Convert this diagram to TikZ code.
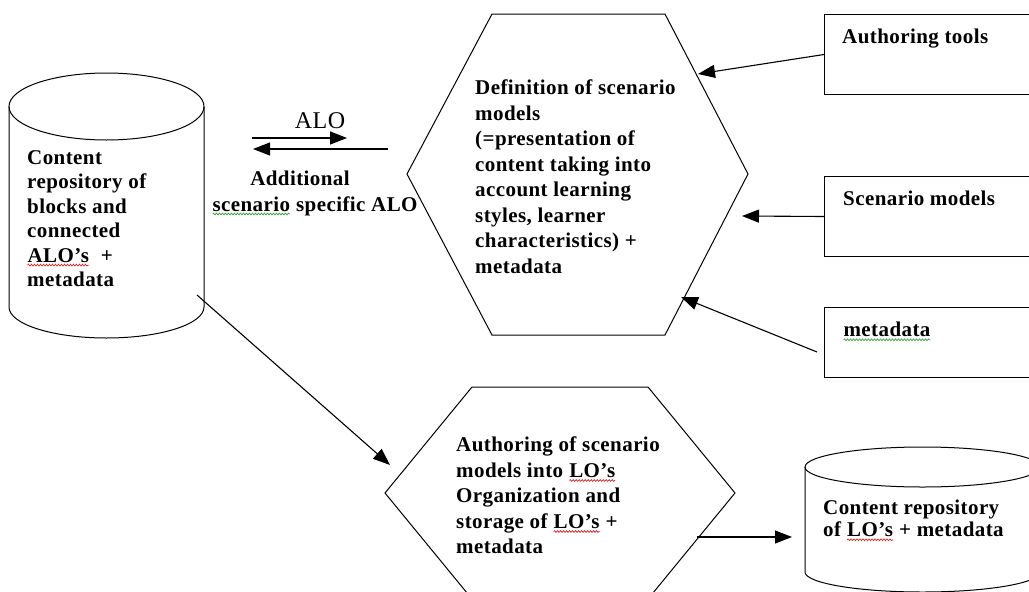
\documentclass[tikz,border=0pt]{standalone}
\usepackage{fontspec}
\setmainfont{Liberation Serif}[LetterSpace=2.0]
\usetikzlibrary{arrows.meta,decorations.pathmorphing}
\definecolor{squigred}{RGB}{210,40,40}
\definecolor{squiggreen}{RGB}{60,160,60}
\newcommand\squig[2]{\tikz[baseline=(sq.base)]{\node[inner sep=0pt,outer sep=0pt,anchor=base west](sq){#2};\draw[#1,line width=0.7pt,decorate,decoration={snake,amplitude=0.9pt,segment length=3pt}]([yshift=-3pt]sq.base west)--([yshift=-3pt]sq.base east);}}
\tikzset{
  shapeline/.style={draw=black,line width=1pt},
  txt/.style={font=\fontsize{21}{25.5}\selectfont\bfseries,inner sep=0pt,align=left,anchor=north west},
  arr/.style={draw=black,line width=1.1pt,-{Triangle[length=17pt,width=13pt]}},
  boxnode/.style={draw=black,line width=1pt,anchor=north west,inner sep=0pt,minimum width=216pt},
}
\begin{document}
\begin{tikzpicture}[x=1pt,y=-1pt]
\useasboundingbox (0,0) rectangle (1029,592);
\clip (0,0) rectangle (1029,592);
\fill[white] (0,0) rectangle (1029,592);

% left cylinder
\draw[shapeline] (106.5,106.5) ellipse [x radius=97.5pt, y radius=33.5pt];
\draw[shapeline] (9,106.5) -- (9,307) arc[start angle=180,end angle=360,x radius=97.5pt,y radius=31pt] -- (204,106.5);
\node[inner sep=0pt,minimum width=195pt,minimum height=200pt] (cylA) at (106.5,207) {};
\node[txt,font=\fontsize{21}{24.5}\selectfont\bfseries] (cylAtext) at (27,150) {Content\\repository of\\blocks and\\connected\\\squig{squigred}{ALO’s} \ +\\metadata};

% upper hexagon
\coordinate (h1a) at (492,14);
\coordinate (h1b) at (665,14);
\coordinate (h1c) at (748,174);
\coordinate (h1d) at (665,335);
\coordinate (h1e) at (492,335);
\coordinate (h1f) at (407,174);
\draw[shapeline] (h1a) -- (h1b) -- (h1c) -- (h1d) -- (h1e) -- (h1f) -- cycle;
\node[txt] (hexAtext) at (475,80) {Definition of scenario\\models\\(=presentation of\\content taking into\\account learning\\styles, learner\\characteristics) +\\metadata};

% lower hexagon
\coordinate (h2a) at (472,387);
\coordinate (h2b) at (648,387);
\coordinate (h2c) at (735,493);
\coordinate (h2d) at (648,599);
\coordinate (h2e) at (472,599);
\coordinate (h2f) at (385,493);
\draw[shapeline] (h2a) -- (h2b) -- (h2c) -- (h2d) -- (h2e) -- (h2f) -- cycle;
\node[txt] (hexBtext) at (456,437) {Authoring of scenario\\models into \squig{squigred}{LO’s}\\Organization and\\storage of \squig{squigred}{LO’s} +\\metadata};

% right cylinder
\draw[shapeline] (922.5,467) ellipse [x radius=117.5pt, y radius=20pt];
\draw[shapeline] (805,467) -- (805,572) arc[start angle=180,end angle=360,x radius=117.5pt,y radius=20pt] -- (1040,467);
\node[inner sep=0pt,minimum width=235pt,minimum height=105pt] (cylB) at (922.5,519.5) {};
\node[txt,font=\fontsize{21}{22}\selectfont\bfseries] (cylBtext) at (823,500) {Content repository\\of \squig{squigred}{LO’s} + metadata};

% right boxes
\node[boxnode,minimum height=80pt] (tools) at (824,14) {};
\node[txt] (toolstext) at (842,29) {Authoring tools};
\node[boxnode,minimum height=80pt] (scen) at (824,176) {};
\node[txt] (scentext) at (843,191) {Scenario models};
\node[boxnode,minimum height=70pt] (meta) at (824,307) {};
\node[txt] (metatext) at (843,322) {\squig{squiggreen}{metadata}};

% ALO labels
\node[inner sep=0pt,font=\fontsize{24}{28}\selectfont] (alo) at (320,121) {ALO};
\node[inner sep=0pt,anchor=base,font=\fontsize{21}{25}\selectfont\bfseries] (addl) at (300,185) {Additional};
\node[inner sep=0pt,anchor=base west,font=\fontsize{21}{25}\selectfont\bfseries] (scspec) at (212,211) {\squig{squiggreen}{scenario} specific ALO};

% connector end points
\coordinate (aloR1) at (252,138);
\coordinate (aloR2) at (347,138);
\coordinate (aloL1) at (388,149);
\coordinate (aloL2) at (253,149);
\coordinate (toolsTip) at (698,74);
\coordinate (scenTip) at (742,216);
\coordinate (metaStart) at (817,352);
\coordinate (metaTip) at (681,297);
\coordinate (cylAStart) at (197,295);
\coordinate (hexBTip) at (390,465);
\coordinate (hexBStart) at (697,537);
\coordinate (cylBTip) at (792,537);

% connectors
\draw[arr] (aloR1) -- (aloR2);
\draw[arr] (aloL1) -- (aloL2);
\draw[arr] (tools.west) -- (toolsTip);
\draw[arr] (scen.west) -- (scenTip);
\draw[arr] (metaStart) -- (metaTip);
\draw[arr] (cylAStart) -- (hexBTip);
\draw[arr] (hexBStart) -- (cylBTip);
\end{tikzpicture}
\end{document}
